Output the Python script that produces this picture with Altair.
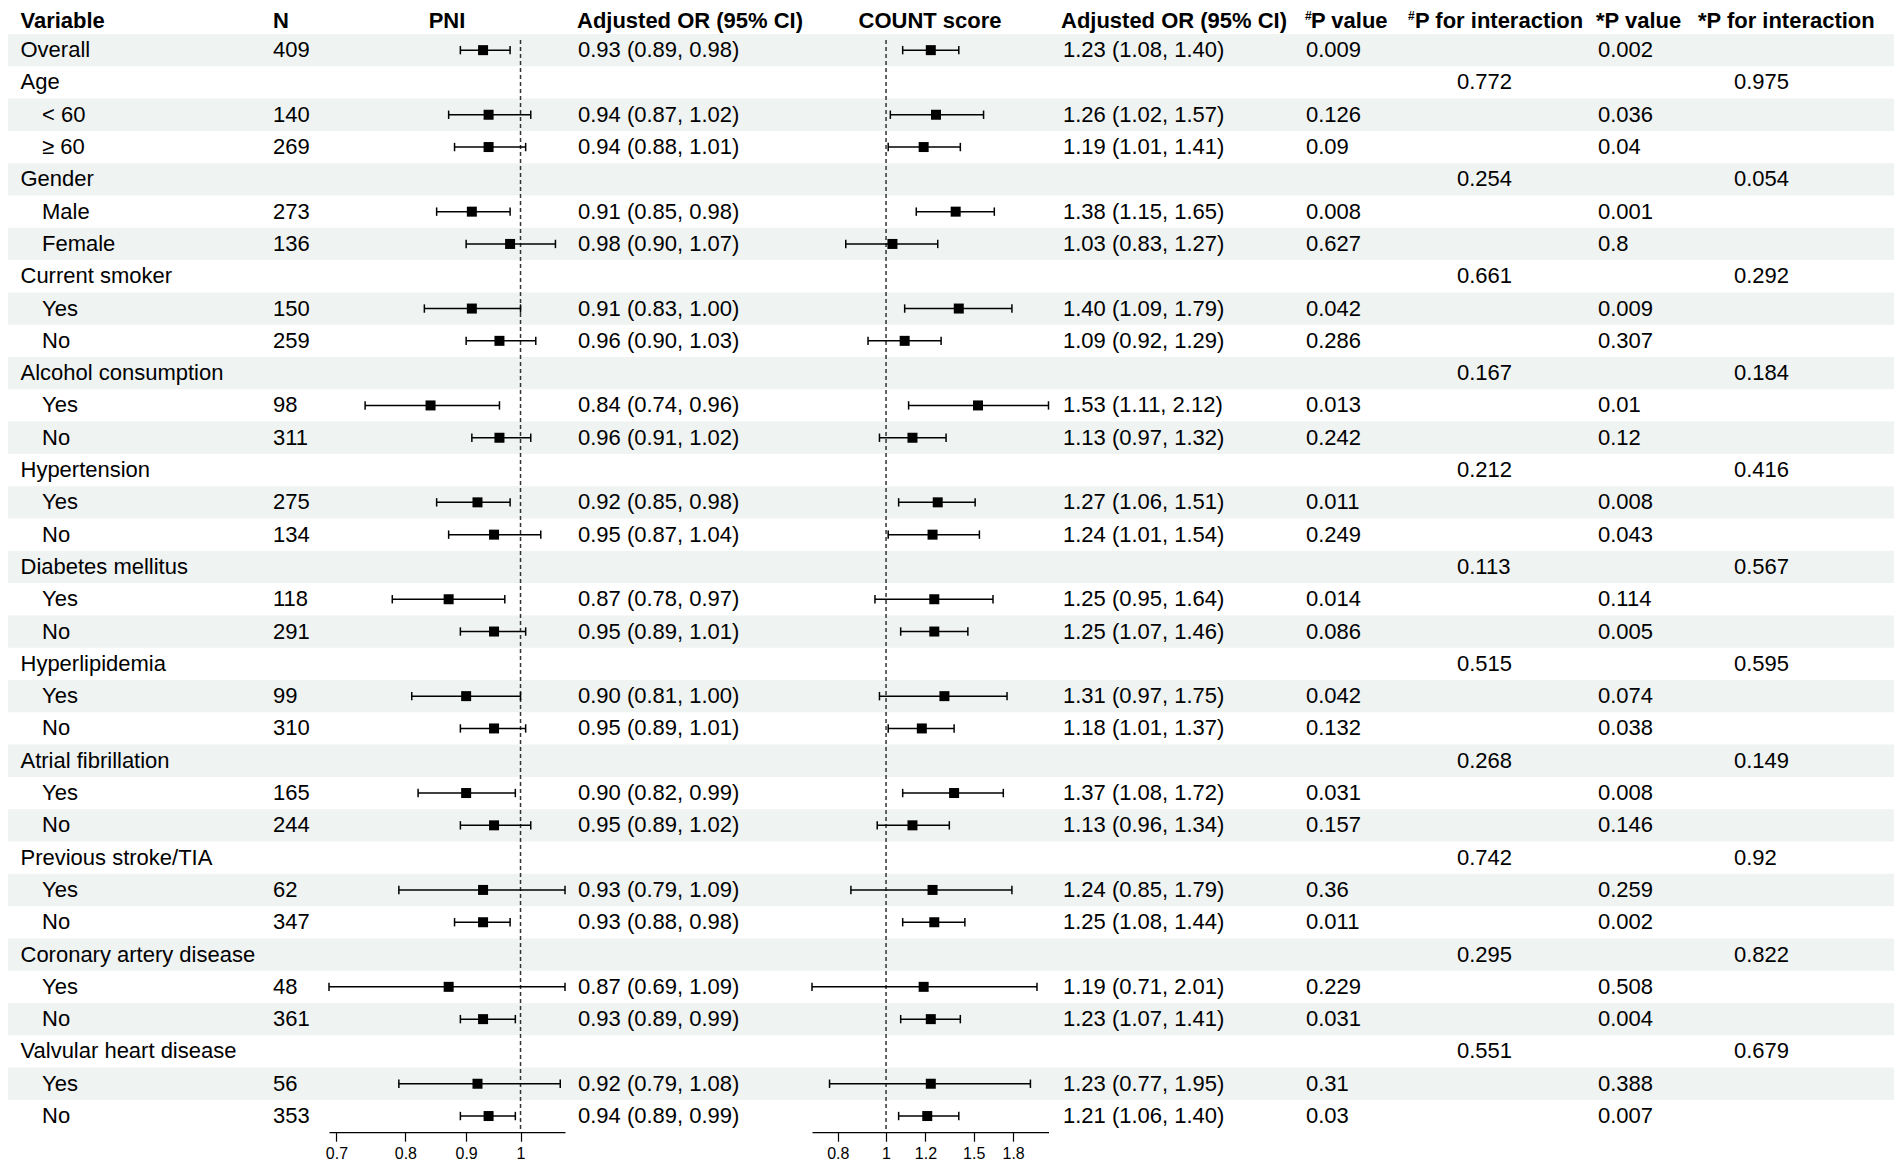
import altair as alt
import pandas as pd

FONT = "Liberation Sans, Arial, Helvetica, sans-serif"

labels = ["Overall", "Age", "< 60", "≥ 60", "Gender", "Male", "Female",
          "Current smoker", "Yes", "No", "Alcohol consumption", "Yes", "No",
          "Hypertension", "Yes", "No", "Diabetes mellitus", "Yes", "No",
          "Hyperlipidemia", "Yes", "No", "Atrial fibrillation", "Yes", "No",
          "Previous stroke/TIA", "Yes", "No", "Coronary artery disease", "Yes", "No",
          "Valvular heart disease", "Yes", "No"]
levels = [0, 0, 1, 1, 0, 1, 1, 0, 1, 1, 0, 1, 1, 0, 1, 1, 0, 1, 1,
          0, 1, 1, 0, 1, 1, 0, 1, 1, 0, 1, 1, 0, 1, 1]
n_vals = ["409", "", "140", "269", "", "273", "136", "", "150", "259", "", "98", "311",
          "", "275", "134", "", "118", "291", "", "99", "310", "", "165", "244",
          "", "62", "347", "", "48", "361", "", "56", "353"]

pni_est = [0.93, None, 0.94, 0.94, None, 0.91, 0.98, None, 0.91, 0.96, None, 0.84, 0.96,
           None, 0.92, 0.95, None, 0.87, 0.95, None, 0.90, 0.95, None, 0.90, 0.95,
           None, 0.93, 0.93, None, 0.87, 0.93, None, 0.92, 0.94]
pni_lo = [0.89, None, 0.87, 0.88, None, 0.85, 0.90, None, 0.83, 0.90, None, 0.74, 0.91,
          None, 0.85, 0.87, None, 0.78, 0.89, None, 0.81, 0.89, None, 0.82, 0.89,
          None, 0.79, 0.88, None, 0.69, 0.89, None, 0.79, 0.89]
pni_hi = [0.98, None, 1.02, 1.01, None, 0.98, 1.07, None, 1.00, 1.03, None, 0.96, 1.02,
          None, 0.98, 1.04, None, 0.97, 1.01, None, 1.00, 1.01, None, 0.99, 1.02,
          None, 1.09, 0.98, None, 1.09, 0.99, None, 1.08, 0.99]

cnt_est = [1.23, None, 1.26, 1.19, None, 1.38, 1.03, None, 1.40, 1.09, None, 1.53, 1.13,
           None, 1.27, 1.24, None, 1.25, 1.25, None, 1.31, 1.18, None, 1.37, 1.13,
           None, 1.24, 1.25, None, 1.19, 1.23, None, 1.23, 1.21]
cnt_lo = [1.08, None, 1.02, 1.01, None, 1.15, 0.83, None, 1.09, 0.92, None, 1.11, 0.97,
          None, 1.06, 1.01, None, 0.95, 1.07, None, 0.97, 1.01, None, 1.08, 0.96,
          None, 0.85, 1.08, None, 0.71, 1.07, None, 0.77, 1.06]
cnt_hi = [1.40, None, 1.57, 1.41, None, 1.65, 1.27, None, 1.79, 1.29, None, 2.12, 1.32,
          None, 1.51, 1.54, None, 1.64, 1.46, None, 1.75, 1.37, None, 1.72, 1.34,
          None, 1.79, 1.44, None, 2.01, 1.41, None, 1.95, 1.40]

p1 = ["0.009", "", "0.126", "0.09", "", "0.008", "0.627", "", "0.042", "0.286", "", "0.013", "0.242",
      "", "0.011", "0.249", "", "0.014", "0.086", "", "0.042", "0.132", "", "0.031", "0.157",
      "", "0.36", "0.011", "", "0.229", "0.031", "", "0.31", "0.03"]
pint1 = ["", "0.772", "", "", "0.254", "", "", "0.661", "", "", "0.167", "", "",
         "0.212", "", "", "0.113", "", "", "0.515", "", "", "0.268", "", "",
         "0.742", "", "", "0.295", "", "", "0.551", "", ""]
p2 = ["0.002", "", "0.036", "0.04", "", "0.001", "0.8", "", "0.009", "0.307", "", "0.01", "0.12",
      "", "0.008", "0.043", "", "0.114", "0.005", "", "0.074", "0.038", "", "0.008", "0.146",
      "", "0.259", "0.002", "", "0.508", "0.004", "", "0.388", "0.007"]
pint2 = ["", "0.975", "", "", "0.054", "", "", "0.292", "", "", "0.184", "", "",
         "0.416", "", "", "0.567", "", "", "0.595", "", "", "0.149", "", "",
         "0.92", "", "", "0.822", "", "", "0.679", "", ""]

pni_ticks = [0.7, 0.8, 0.9, 1]
cnt_ticks = [0.8, 1, 1.2, 1.5, 1.8]


def fmt(e, l, h):
    if e is None:
        return ""
    return f"{e:.2f} ({l:.2f}, {h:.2f})"


df = pd.DataFrame({
    "row": list(range(1, len(labels) + 1)),
    "label": labels,
    "level": levels,
    "n": n_vals,
    "pni_est": pni_est, "pni_lo": pni_lo, "pni_hi": pni_hi,
    "cnt_est": cnt_est, "cnt_lo": cnt_lo, "cnt_hi": cnt_hi,
    "pni_txt": [fmt(e, l, h) for e, l, h in zip(pni_est, pni_lo, pni_hi)],
    "cnt_txt": [fmt(e, l, h) for e, l, h in zip(cnt_est, cnt_lo, cnt_hi)],
    "p1": p1, "pint1": pint1, "p2": p2, "pint2": pint2,
})

W = 1886
ROWH = 32.3
H = ROWH * len(labels)

yscale = alt.Scale(domain=[0.5, len(labels) + 0.5], reverse=True, nice=False, zero=False)
Y = alt.Y("row:Q", scale=yscale, axis=None)

base = alt.Chart(df)

# background stripes
bg = base.transform_filter("datum.row % 2 == 1").transform_calculate(
    y0="datum.row - 0.5", y1="datum.row + 0.5"
).mark_rect(color="#eff3f2").encode(
    x=alt.value(0), x2=alt.value(W),
    y=alt.Y("y0:Q", scale=yscale, axis=None), y2="y1:Q",
)


def col_text(field, x, filt=None, align="left"):
    c = base
    if filt:
        c = c.transform_filter(filt)
    return c.mark_text(align=align, baseline="middle", fontSize=22, font=FONT,
                       color="black").encode(x=alt.value(x), y=Y, text=f"{field}:N")


texts = [
    col_text("label", 12.5, "datum.level == 0"),
    col_text("label", 34, "datum.level == 1"),
    col_text("n", 265),
    col_text("pni_txt", 570),
    col_text("cnt_txt", 1055),
    col_text("p1", 1298),
    col_text("pint1", 1449),
    col_text("p2", 1590),
    col_text("pint2", 1726),
]


def header(t, x, align="left", size=22, bold=True, dy=3):
    return alt.Chart(pd.DataFrame({"row": [0], "t": [t]})).mark_text(
        align=align, baseline="middle", fontSize=size, font=FONT,
        fontWeight="bold" if bold else "normal", color="black", dy=dy
    ).encode(x=alt.value(x), y=Y, text="t:N")


headers = [
    header("Variable", 12.5),
    header("N", 265),
    header("PNI", 439, align="center"),
    header("Adjusted OR (95% CI)", 569),
    header("COUNT score", 922, align="center"),
    header("Adjusted OR (95% CI)", 1053),
    header("#", 1297, size=12, dy=-2),
    header("P value", 1303),
    header("#", 1400, size=12, dy=-2),
    header("P for interaction", 1407),
    header("*P value", 1588),
    header("*P for interaction", 1690),
]


def forest(est, lo, hi, domain, rng, ticks):
    xs = alt.Scale(type="log", domain=domain, range=rng, nice=False)
    ax = alt.Axis(values=ticks, labelExpr="datum.value", grid=False, orient="bottom",
                  domainColor="black", domainWidth=1.2, tickColor="black", tickWidth=1.2,
                  tickSize=9, labelFontSize=16, labelColor="black", labelFont=FONT,
                  labelPadding=4, title=None, labelFlush=False, labelOverlap=False)
    fb = base.transform_filter(f"isValid(datum.{est})").transform_calculate(
        yt="datum.row - 0.13", yb="datum.row + 0.13")
    ci = fb.mark_rule(color="black", strokeWidth=1.5).encode(
        x=alt.X(f"{lo}:Q", scale=xs, axis=ax), x2=f"{hi}:Q", y=Y)
    capl = fb.mark_rule(color="black", strokeWidth=1.5).encode(
        x=alt.X(f"{lo}:Q", scale=xs, axis=ax),
        y=alt.Y("yt:Q", scale=yscale, axis=None), y2="yb:Q")
    capr = fb.mark_rule(color="black", strokeWidth=1.5).encode(
        x=alt.X(f"{hi}:Q", scale=xs, axis=ax),
        y=alt.Y("yt:Q", scale=yscale, axis=None), y2="yb:Q")
    sq = fb.mark_square(size=100, color="black", opacity=1).encode(
        x=alt.X(f"{est}:Q", scale=xs, axis=ax), y=Y)
    ref = alt.Chart(pd.DataFrame({"ref": [1.0]})).mark_rule(
        color="#333333", strokeWidth=1.5, strokeDash=[4, 3]).encode(
        x=alt.X("ref:Q", scale=xs, axis=ax),
        y=alt.value(6), y2=alt.value(H))
    return alt.layer(ref, ci, capl, capr, sq)


pni_layer = forest("pni_est", "pni_lo", "pni_hi", [0.69, 1.09], [321, 557], pni_ticks)
cnt_layer = forest("cnt_est", "cnt_lo", "cnt_hi", [0.71, 2.12], [804, 1040.5], cnt_ticks)

chart = alt.layer(bg, *texts, *headers, pni_layer, cnt_layer).resolve_scale(
    x="independent"
).resolve_axis(x="independent").properties(
    width=W, height=H,
    autosize=alt.AutoSizeParams(type="none"),
    padding={"left": 0, "top": 26, "right": 0, "bottom": 32},
).configure_view(strokeWidth=0)

chart.save("out.html", embed_options={"renderer": "svg", "actions": False})
